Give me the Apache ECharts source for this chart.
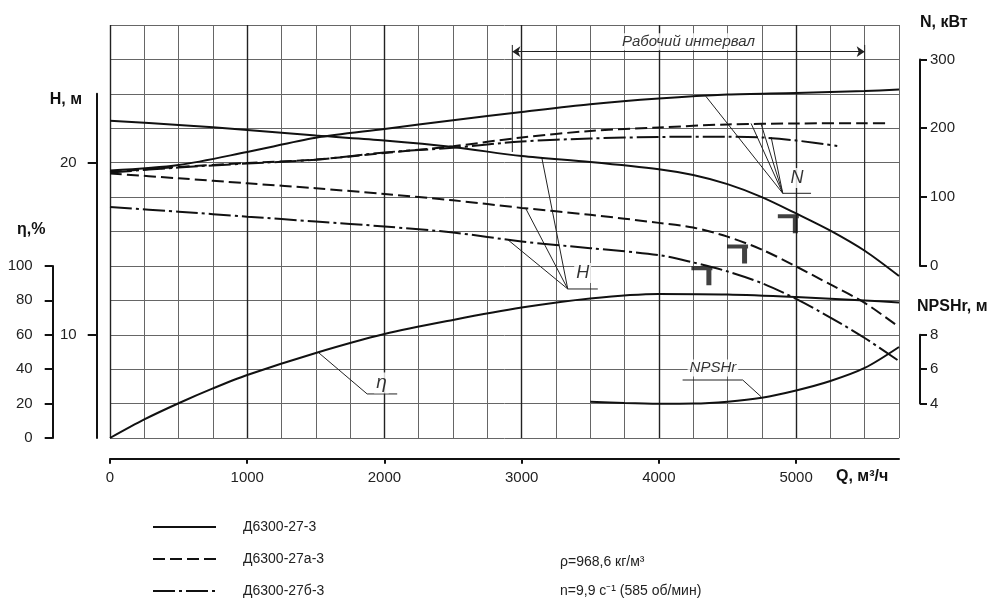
<!DOCTYPE html>
<html>
<head>
<meta charset="utf-8">
<script src="https://cdn.jsdelivr.net/npm/echarts@6.0.0/dist/echarts.min.js"></script>
<style>
  html, body { margin: 0; padding: 0; background: #fff; }
  #chart { width: 988px; height: 601px; }
</style>
</head>
<body>
<div id="chart"></div>
<script>
// Pump characteristics: head, power, efficiency and NPSHr versus flow
const pumpNames = ['Д6300-27-3', 'Д6300-27а-3', 'Д6300-27б-3'];

// Head H, m
const flowQ = [0, 500, 1000, 1500, 2000, 2500, 3000, 3500, 4000, 4250, 4500, 4750, 5000, 5250, 5500, 5750];
const headA = [22.44, 22.19, 21.90, 21.57, 21.29, 20.91, 20.38, 20.04, 19.62, 19.28, 18.75, 18.00, 17.05, 16.05, 14.88, 13.41];
const headB = [19.37, 19.09, 18.80, 18.51, 18.18, 17.81, 17.37, 16.97, 16.50, 16.23, 15.70, 14.95, 13.97, 12.92, 11.85, 10.45];
const headC = [17.42, 17.15, 16.86, 16.58, 16.29, 15.94, 15.42, 15.03, 14.63, 14.20, 13.68, 13.00, 12.08, 11.00, 9.81, 8.47];

// Power N, kW
const powerQA = [0, 500, 1000, 1500, 2000, 2500, 3000, 3500, 4000, 4500, 5000, 5500, 5750];
const powerA = [138.6, 146.6, 165.5, 186.1, 198.9, 211.7, 223.6, 234.9, 243.2, 249.0, 251.2, 254.1, 256.3];
const powerQB = [0, 500, 1000, 1500, 2000, 2500, 3000, 3500, 4000, 4500, 5000, 5500, 5650];
const powerB = [136.4, 143.7, 149.5, 154.6, 164.0, 173.8, 186.6, 196.0, 201.1, 205.5, 206.9, 207.2, 207.2];
const powerQC = [0, 500, 1000, 1500, 2000, 2500, 3000, 3500, 4000, 4500, 4750, 5000, 5300];
const powerC = [135.6, 143.0, 148.8, 154.2, 164.8, 171.6, 180.8, 185.1, 187.3, 187.7, 186.6, 182.2, 174.2];

// Efficiency η, %
const effQ = [0, 250, 500, 750, 1000, 1500, 2000, 2500, 3000, 3500, 4000, 4500, 5000, 5500, 5750];
const eff = [0, 10.8, 20.2, 28.8, 36.6, 49.4, 60.4, 68.6, 75.8, 81.1, 83.7, 83.4, 81.9, 79.9, 78.7];

// Required NPSH, m
const npshQ = [3500, 3750, 4000, 4250, 4500, 4750, 5000, 5250, 5500, 5750];
const npsh = [4.11, 4.03, 3.99, 4.00, 4.11, 4.34, 4.76, 5.31, 6.07, 7.29];

// Marked duty points on the head curves
const markQ = [5020, 4650, 4390];
const markH = [17.0, 15.25, 13.98];

// Operating range, m³/h
const workRange = [2932, 5500];

// Tick values
const qTicks = [0, 1000, 2000, 3000, 4000, 5000];
const hTicks = [10, 20];

const FONT = '"Liberation Sans", Arial, sans-serif';
const INK = '#111';
const dash = [12, 5];
const dashDot = [22, 4, 3, 4];

// Leader lines for curve captions (flow, head units of the main grid)
const leaders = [
  [[3146, 20.33], [3336, 12.66], [3555, 12.66]],
  [[3029, 17.35], [3336, 12.66]],
  [[2901, 15.51], [3336, 12.66]],
  [[4343, 23.85], [4903, 18.22], [5109, 18.22]],
  [[4672, 22.28], [4903, 18.22]],
  [[4745, 22.25], [4903, 18.22]],
  [[4818, 21.49], [4903, 18.22]],
  [[1520, 8.96], [1874, 6.56], [2093, 6.56]],
  [[4745, 6.40], [4611, 7.37], [4173, 7.37]],
  [[workRange[0], 26.84], [workRange[0], 20.62]],
  [[workRange[1], 26.84], [workRange[1], 14.87]]
];
const captions = [
  { text: 'H', q: 3445, h: 13.59, size: 18 },
  { text: 'N', q: 5007, h: 19.11, size: 18 },
  { text: 'η', q: 1978, h: 7.20, size: 19 },
  { text: 'NPSHr', q: 4394, h: 8.07, size: 15 },
  { text: 'Рабочий интервал', q: 4215, h: 27.03, size: 15 }
];

function curve(name, q, v, xi, yi, type, extra) {
  return Object.assign({
    type: 'line', name: name, xAxisIndex: xi, yAxisIndex: yi,
    data: q.map((x, i) => [x, v[i]]),
    symbol: 'none', smooth: 0.3,
    lineStyle: { color: INK, width: 2, type: type },
    itemStyle: { color: INK },
    silent: true, z: 4
  }, extra || {});
}

const hiddenX = (g) => ({ gridIndex: g, type: 'value', min: 0, max: 5750, show: false });
const plain = (v) => String(v);
const tickText = { fontSize: 15, color: '#222', fontFamily: FONT, formatter: plain };
const axisInk = { color: INK, width: 2 };
const gridRect = { left: 110, right: 89 };

// One legend block per pump so the entries stack in a single column
const legends = pumpNames.map((n, i) => ({
  data: [n], left: 152, top: 520 + i * 32, padding: 0,
  itemWidth: 63, itemHeight: 14, selectedMode: false,
  itemStyle: { opacity: 0 },
  textStyle: { fontSize: 14, color: '#222', fontFamily: FONT, padding: [0, 0, 0, 22] }
}));

const option = {
  animation: false,
  backgroundColor: '#fff',
  color: [INK],
  textStyle: { fontFamily: FONT },
  grid: [
    Object.assign({ top: 25, bottom: 163 }, gridRect),
    Object.assign({ top: 93.8, bottom: 163 }, gridRect),
    Object.assign({ top: 265.9, bottom: 163 }, gridRect),
    Object.assign({ top: 59.4, bottom: 335.1 }, gridRect),
    Object.assign({ top: 334.75, bottom: 197.4 }, gridRect)
  ],
  xAxis: [
    { gridIndex: 0, type: 'value', min: 0, max: 5750, interval: 250,
      axisLine: { show: false }, axisTick: { show: false }, axisLabel: { show: false },
      splitLine: { show: true, lineStyle: { color: '#666', width: 1 } } },
    { gridIndex: 0, type: 'value', min: 0, max: 5750, interval: 1000, position: 'bottom', offset: 20.7,
      axisLine: { show: true, onZero: false, lineStyle: axisInk },
      axisTick: { show: true, length: 5, customValues: qTicks, lineStyle: axisInk },
      axisLabel: Object.assign({ customValues: qTicks, margin: 12 }, tickText),
      splitLine: { show: true, lineStyle: { color: '#222', width: 1.4 } } },
    hiddenX(1), hiddenX(2), hiddenX(3), hiddenX(4)
  ],
  yAxis: [
    { gridIndex: 0, type: 'value', min: 4, max: 28, interval: 2,
      axisLine: { show: false }, axisTick: { show: false }, axisLabel: { show: false },
      splitLine: { show: true, lineStyle: { color: '#666', width: 1 } } },
    { gridIndex: 1, type: 'value', min: 4, max: 24, position: 'left', offset: 13.3,
      axisLine: { show: true, onZero: false, lineStyle: axisInk },
      axisTick: { show: true, length: 9, customValues: hTicks, lineStyle: axisInk },
      axisLabel: Object.assign({ customValues: hTicks, margin: 20 }, tickText),
      splitLine: { show: false } },
    { gridIndex: 2, type: 'value', min: 0, max: 100, interval: 20, position: 'left', offset: 57.3,
      axisLine: { show: true, onZero: false, lineStyle: axisInk },
      axisTick: { show: true, length: 8, lineStyle: axisInk },
      axisLabel: Object.assign({ margin: 20 }, tickText),
      splitLine: { show: false } },
    { gridIndex: 3, type: 'value', min: 0, max: 300, interval: 100, position: 'right', offset: 21,
      axisLine: { show: true, onZero: false, lineStyle: axisInk },
      axisTick: { show: true, length: 7, lineStyle: axisInk },
      axisLabel: Object.assign({ margin: 10 }, tickText),
      splitLine: { show: false } },
    { gridIndex: 4, type: 'value', min: 4, max: 8, interval: 2, position: 'right', offset: 21,
      axisLine: { show: true, onZero: false, lineStyle: axisInk },
      axisTick: { show: true, length: 7, lineStyle: axisInk },
      axisLabel: Object.assign({ margin: 10 }, tickText),
      splitLine: { show: false } }
  ],
  legend: legends,
  series: [
    curve(pumpNames[0], flowQ, headA, 2, 1, 'solid'),
    curve(pumpNames[1], flowQ, headB, 2, 1, dash),
    curve(pumpNames[2], flowQ, headC, 2, 1, dashDot),
    curve(pumpNames[0], powerQA, powerA, 4, 3, 'solid'),
    curve(pumpNames[1], powerQB, powerB, 4, 3, dash),
    curve(pumpNames[2], powerQC, powerC, 4, 3, dashDot),
    curve('η', effQ, eff, 3, 2, 'solid'),
    curve('NPSHr', npshQ, npsh, 5, 4, 'solid', { clip: false }),
    {
      type: 'lines', name: 'leaders', coordinateSystem: 'cartesian2d', xAxisIndex: 0, yAxisIndex: 0,
      polyline: true, silent: true, z: 3,
      lineStyle: { color: '#222', width: 1, opacity: 1 },
      data: leaders.map(p => ({ coords: p }))
    },
    {
      type: 'lines', name: 'range', coordinateSystem: 'cartesian2d', xAxisIndex: 0, yAxisIndex: 0,
      silent: true, z: 3, symbol: ['arrow', 'arrow'], symbolSize: 8,
      lineStyle: { color: '#222', width: 1.2, opacity: 1 },
      data: [{ coords: [[workRange[0], 26.45], [workRange[1], 26.45]] }]
    },
    {
      type: 'scatter', name: 'marks', xAxisIndex: 2, yAxisIndex: 1, silent: true, z: 5,
      symbol: 'path://M0,0 L21,0 L21,4 L20,4 L20,19 L15,19 L15,4 L0,4 Z',
      symbolSize: [21, 19], symbolOffset: [-10.5, 9.5],
      itemStyle: { color: INK },
      data: markQ.map((q, i) => [q, markH[i]])
    },
    {
      type: 'scatter', name: 'captions', xAxisIndex: 0, yAxisIndex: 0, silent: true, z: 6,
      symbolSize: 1, itemStyle: { color: 'rgba(0,0,0,0)' },
      data: captions.map(c => ({
        name: c.text, value: [c.q, c.h],
        label: { fontSize: c.size }
      })),
      label: {
        show: true, position: 'inside', formatter: '{b}',
        fontStyle: 'italic', fontFamily: FONT, color: '#000',
        textBorderWidth: 0, backgroundColor: '#fff', padding: [1, 2]
      }
    }
  ],
  graphic: [
    { type: 'text', x: 82, y: 100, style: { text: 'H, м', align: 'right', verticalAlign: 'middle', font: 'bold 16px ' + FONT, fill: '#111' } },
    { type: 'text', x: 17, y: 230, style: { text: 'η,%', align: 'left', verticalAlign: 'middle', font: 'bold 16px ' + FONT, fill: '#111' } },
    { type: 'text', x: 920, y: 23, style: { text: 'N, кВт', align: 'left', verticalAlign: 'middle', font: 'bold 16px ' + FONT, fill: '#111' } },
    { type: 'text', x: 917, y: 307, style: { text: 'NPSHr, м', align: 'left', verticalAlign: 'middle', font: 'bold 16px ' + FONT, fill: '#111' } },
    { type: 'text', x: 836, y: 477, style: { text: 'Q, м³/ч', align: 'left', verticalAlign: 'middle', font: 'bold 16px ' + FONT, fill: '#111' } },
    { type: 'text', x: 560, y: 562, style: { text: 'ρ=968,6 кг/м³', align: 'left', verticalAlign: 'middle', font: '14px ' + FONT, fill: '#222' } },
    { type: 'text', x: 560, y: 591, style: { text: 'n=9,9 с⁻¹ (585 об/мин)', align: 'left', verticalAlign: 'middle', font: '14px ' + FONT, fill: '#222' } }
  ]
};

echarts.init(document.getElementById('chart'), null, { renderer: 'canvas' }).setOption(option);
</script>
</body>
</html>
